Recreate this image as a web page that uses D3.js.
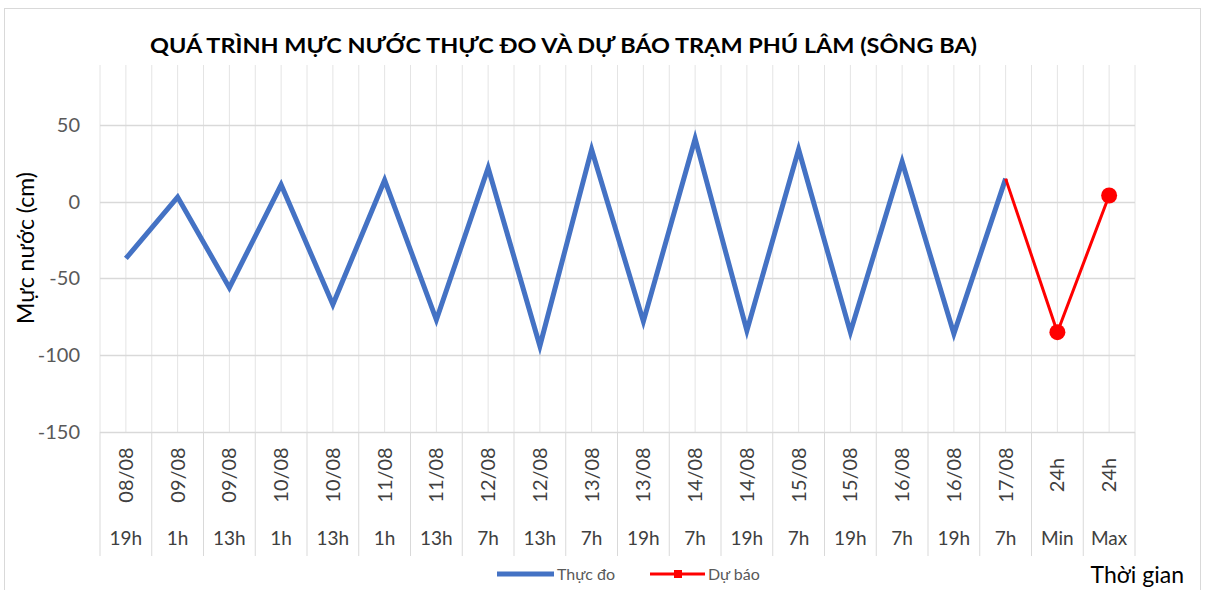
<!DOCTYPE html>
<html>
<head>
<meta charset="utf-8">
<script src="https://cdn.jsdelivr.net/npm/d3@7"></script>
<style>
  body { margin: 0; background: #fff; }
  svg { display: block; font-family: Lato, 'Open Sans', sans-serif; }
</style>
</head>
<body>
<div class="chart"></div>
<script>
const DATES = ['08/08', '09/08', '09/08', '10/08', '10/08', '11/08', '11/08', '12/08', '12/08', '13/08',
	'13/08', '14/08', '14/08', '15/08', '15/08', '16/08', '16/08', '17/08', '24h', '24h']
const HOURS = ['19h', '1h', '13h', '1h', '13h', '1h', '13h', '7h', '13h', '7h',
	'19h', '7h', '19h', '7h', '19h', '7h', '19h', '7h', 'Min', 'Max']
// thực đo: categories 0..17
const OBSERVED = [-37, 3, -56, 11, -67, 14, -77, 22, -94, 34, -78, 41, -84, 34, -85, 26, -86, 15]
// dự báo: categories 17..19
const FORECAST_IDX = [17, 18, 19]
const FORECAST = [15, -85, 4]
const Y_TICKS = [50, 0, -50, -100, -150]

const W = 1206
const H = 590
const plot = { left: 100, right: 1135, top: 65, bottom: 432 }
const BLUE = '#4472c4'
const RED = '#ff0000'
const GREY_TEXT = '#595959'

const svg = d3.select('.chart').append('svg')
	.attr('width', W)
	.attr('height', H)

// frame
svg.append('rect')
	.attr('x', 4.5).attr('y', 8.5)
	.attr('width', 1196).attr('height', 600)
	.attr('fill', '#fff')
	.attr('stroke', '#d9d9d9')

const x = d3.scaleBand()
	.domain(d3.range(DATES.length))
	.range([plot.left, plot.right])
const step = x.step()
const cx = i => x(i) + step / 2

const y = d3.scaleLinear()
	.domain([-150, 89])
	.range([plot.bottom, plot.top])

// vertical gridlines, at boundaries and centres
const vLines = d3.range(0, DATES.length * 2 + 1).map(k => plot.left + k * step / 2)
svg.append('g').selectAll('line').data(vLines).join('line')
	.attr('x1', d => d).attr('x2', d => d)
	.attr('y1', plot.top).attr('y2', plot.bottom)
	.attr('stroke', '#e4e4e4')
	.attr('stroke-width', 1)

// horizontal gridlines
svg.append('g').selectAll('line').data(Y_TICKS).join('line')
	.attr('x1', plot.left).attr('x2', plot.right)
	.attr('y1', d => Math.round(y(d)) + 0.5).attr('y2', d => Math.round(y(d)) + 0.5)
	.attr('stroke', '#d9d9d9')
	.attr('stroke-width', 1.5)

// category separators in label area
svg.append('g').selectAll('line').data(d3.range(DATES.length + 1)).join('line')
	.attr('x1', d => plot.left + d * step).attr('x2', d => plot.left + d * step)
	.attr('y1', plot.bottom).attr('y2', 556)
	.attr('stroke', '#d9d9d9')

// y axis labels
svg.append('g').selectAll('text').data(Y_TICKS).join('text')
	.attr('x', 80)
	.attr('y', d => y(d))
	.attr('dy', '0.35em')
	.attr('text-anchor', 'end')
	.attr('font-size', 20)
	.attr('fill', GREY_TEXT)
	.text(d => d)

// category labels
svg.append('g').selectAll('text').data(DATES).join('text')
	.attr('transform', (d, i) => `translate(${cx(i)}, 475) rotate(-90)`)
	.attr('text-anchor', 'middle')
	.attr('dy', '0.35em')
	.attr('font-size', 20)
	.attr('fill', '#404040')
	.text(d => d)

svg.append('g').selectAll('text').data(HOURS).join('text')
	.attr('x', (d, i) => cx(i))
	.attr('y', 538)
	.attr('dy', '0.35em')
	.attr('text-anchor', 'middle')
	.attr('font-size', 19)
	.attr('fill', '#404040')
	.text(d => d)

// lines
const line = d3.line()
	.x(d => cx(d.i))
	.y(d => y(d.v))

const obs = OBSERVED.map((v, i) => ({ i, v }))
const fc = FORECAST.map((v, k) => ({ i: FORECAST_IDX[k], v }))

svg.append('path')
	.datum(obs)
	.attr('d', line)
	.attr('fill', 'none')
	.attr('stroke', BLUE)
	.attr('stroke-width', 5)
	.attr('stroke-linejoin', 'miter')

svg.append('path')
	.datum(fc)
	.attr('d', line)
	.attr('fill', 'none')
	.attr('stroke', RED)
	.attr('stroke-width', 3)
	.attr('stroke-linejoin', 'miter')

svg.append('g').selectAll('circle').data(fc.slice(1)).join('circle')
	.attr('cx', d => cx(d.i))
	.attr('cy', d => y(d.v))
	.attr('r', 8)
	.attr('fill', RED)

// title
svg.append('text')
	.attr('x', 150)
	.attr('y', 53)
	.attr('font-size', 21)
	.attr('font-weight', 'bold')
	.attr('fill', '#000')
	.attr('textLength', 827)
	.attr('lengthAdjust', 'spacingAndGlyphs')
	.text('QUÁ TRÌNH MỰC NƯỚC THỰC ĐO VÀ DỰ BÁO TRẠM PHÚ LÂM (SÔNG BA)')

// y title
svg.append('text')
	.attr('transform', 'translate(26, 248) rotate(-90)')
	.attr('text-anchor', 'middle')
	.attr('dy', '0.35em')
	.attr('font-size', 23)
	.attr('fill', '#000')
	.text('Mực nước (cm)')

// x title
svg.append('text')
	.attr('x', 1184)
	.attr('y', 583)
	.attr('text-anchor', 'end')
	.attr('font-size', 23)
	.attr('fill', '#000')
	.text('Thời gian')

// legend
const legend = svg.append('g').attr('font-size', 16).attr('fill', GREY_TEXT)
legend.append('line')
	.attr('x1', 497).attr('x2', 554).attr('y1', 574).attr('y2', 574)
	.attr('stroke', BLUE).attr('stroke-width', 5)
legend.append('text')
	.attr('x', 557).attr('y', 574).attr('dy', '0.35em')
	.text('Thực đo')
legend.append('line')
	.attr('x1', 650).attr('x2', 705).attr('y1', 574).attr('y2', 574)
	.attr('stroke', RED).attr('stroke-width', 3)
legend.append('rect')
	.attr('x', 674).attr('y', 570).attr('width', 8).attr('height', 8)
	.attr('fill', RED)
legend.append('text')
	.attr('x', 708).attr('y', 574).attr('dy', '0.35em')
	.text('Dự báo')
</script>
</body>
</html>
